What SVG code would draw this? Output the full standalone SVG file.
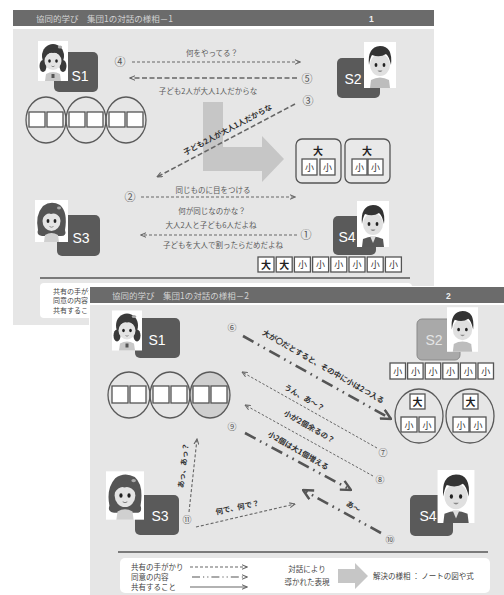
<svg xmlns="http://www.w3.org/2000/svg" width="504" height="595" viewBox="0 0 504 595">
<style>
 .hdr{fill:#6b6b6b}
 .hdrt{font-family:"Noto Sans CJK JP","Noto Sans CJK SC",sans-serif;font-size:8.5px;fill:#d2d2d2}
 .pno{font-family:"Liberation Sans",Arial,sans-serif;font-size:8.5px;font-weight:bold;fill:#f0f0f0}
 .pg{fill:#e6e6e6}
 .sb{fill:#5a5a5a}
 .sb2{fill:#a9a9a9;stroke:#8a8a8a;stroke-width:1}
 .st{font-family:"Liberation Sans",Arial,sans-serif;font-size:14px;fill:#fff;text-anchor:middle}
 .st2{font-family:"Liberation Sans",Arial,sans-serif;font-size:14px;fill:#e4e4e4;text-anchor:middle}
 .t{font-family:"Noto Sans CJK JP","Noto Sans CJK SC",sans-serif;font-size:7.5px;fill:#5a5a5a;text-anchor:middle}
 .tb{font-family:"Noto Sans CJK JP","Noto Sans CJK SC",sans-serif;font-size:7.5px;font-weight:bold;fill:#333;text-anchor:middle}
 .n{font-family:"Noto Sans CJK JP","Noto Sans CJK SC",sans-serif;font-size:11px;fill:#555;text-anchor:middle}
 .n2{font-family:"Noto Sans CJK JP","Noto Sans CJK SC",sans-serif;font-size:9px;fill:#555;text-anchor:middle}
 .cell{fill:#fff;stroke:#555;stroke-width:1.3}
 .ring{fill:none;stroke:#5a5a5a;stroke-width:1.3}
 .ringf{fill:#cfcfcf;stroke:#5a5a5a;stroke-width:1.3}
 .rbox{fill:#e9e9e9;stroke:#555;stroke-width:1.3}
 .k{font-family:"Noto Sans CJK JP","Noto Sans CJK SC",sans-serif;font-size:9px;fill:#333;text-anchor:middle}
 .kb{font-family:"Noto Sans CJK JP","Noto Sans CJK SC",sans-serif;font-size:10px;font-weight:bold;fill:#222;text-anchor:middle}
 .d{fill:none;stroke:#666;stroke-width:1.1;stroke-dasharray:3 2}
 .d2{fill:none;stroke:#666;stroke-width:1.6;stroke-dasharray:5 2.5}
 .dt{fill:none;stroke:#666;stroke-width:1;stroke-dasharray:2.5 1.8}
 .dd{fill:none;stroke:#555;stroke-width:2.6;stroke-dasharray:12 5 1.6 5 1.6 5}
 .ln{fill:none;stroke:#666;stroke-width:1.1}
 .sep{stroke:#7a7a7a;stroke-width:2}
 .lg{font-family:"Noto Sans CJK JP","Noto Sans CJK SC",sans-serif;font-size:7.5px;fill:#444}
 .lg1{font-family:"Noto Sans CJK JP","Noto Sans CJK SC",sans-serif;font-size:7px;fill:#444}
 .big{fill:#c6c6c6}
</style>
<defs>
 <marker id="ah" viewBox="0 0 10 10" refX="9" refY="5" markerWidth="6" markerHeight="6" markerUnits="userSpaceOnUse" orient="auto">
  <path d="M0,1 L9,5 L0,9" fill="none" stroke="#666" stroke-width="1.8"/>
 </marker>
 <marker id="cv" viewBox="0 0 12 12" refX="11" refY="6" markerWidth="12" markerHeight="12" markerUnits="userSpaceOnUse" orient="auto">
  <path d="M1,1 L11,6 L1,11" fill="none" stroke="#555" stroke-width="2.4"/>
 </marker>
 <!-- character portraits -->
 <symbol id="girlA" viewBox="0 0 30 40">
  <rect width="30" height="40" fill="#fff"/>
  <ellipse cx="5" cy="25" rx="3.5" ry="6" fill="#3a3a3a"/>
  <ellipse cx="25" cy="25" rx="3.5" ry="6" fill="#3a3a3a"/>
  <path d="M7,40 L8,33 Q15,29 22,33 L23,40 Z" fill="#c8c8c8"/>
  <rect x="13.5" y="33" width="3" height="4" fill="#555"/>
  <ellipse cx="15" cy="15" rx="11" ry="12" fill="#3a3a3a"/>
  <ellipse cx="15" cy="20" rx="8.5" ry="9" fill="#e4e4e4"/>
  <path d="M6,17 Q8,7 15,7 Q23,7 24,17 Q20,11 15,12 Q10,11 6,17 Z" fill="#3a3a3a"/>
  <ellipse cx="11.5" cy="20" rx="1.3" ry="1.8" fill="#222"/>
  <ellipse cx="18.5" cy="20" rx="1.3" ry="1.8" fill="#222"/>
  <path d="M13.5,25 Q15,26.5 16.5,25" stroke="#777" fill="none" stroke-width="0.8"/>
  <ellipse cx="22" cy="6" rx="2.2" ry="1.5" fill="#aaa"/>
 </symbol>
 <symbol id="girlB" viewBox="0 0 33 42">
  <rect width="33" height="42" fill="#fff"/>
  <path d="M3,30 Q0,15 8,6 Q16,0 25,5 Q33,12 30,30 Q32,36 26,36 L7,36 Q1,35 3,30 Z" fill="#555"/>
  <path d="M9,42 L10,35 Q16.5,31 23,35 L24,42 Z" fill="#d0d0d0"/>
  <ellipse cx="16.5" cy="21" rx="9" ry="10" fill="#e4e4e4"/>
  <path d="M7,19 Q9,8 17,8 Q25,9 26,19 Q21,12 16,14 Q12,12 7,19 Z" fill="#555"/>
  <ellipse cx="13" cy="21" rx="1.4" ry="1.9" fill="#222"/>
  <ellipse cx="20" cy="21" rx="1.4" ry="1.9" fill="#222"/>
  <path d="M14.5,26.5 Q16.5,28 18.5,26.5" stroke="#777" fill="none" stroke-width="0.8"/>
  <ellipse cx="24" cy="8" rx="2" ry="1.4" fill="#aaa"/>
 </symbol>
 <symbol id="boyA" viewBox="0 0 32 46">
  <rect width="32" height="46" fill="#fff"/>
  <path d="M6,46 L7,38 Q16,33 25,38 L26,46 Z" fill="#bdbdbd"/>
  <ellipse cx="16" cy="23" rx="10" ry="11" fill="#e0e0e0"/>
  <path d="M5,23 Q3,5 16,4 Q29,4 27,23 Q25,14 22,12 Q16,16 8,13 Q6,16 5,23 Z" fill="#333"/>
  <ellipse cx="12" cy="23" rx="1.4" ry="1.9" fill="#222"/>
  <ellipse cx="20" cy="23" rx="1.4" ry="1.9" fill="#222"/>
  <path d="M13.5,28.5 Q16,31.5 18.5,28.5 Z" fill="#888"/>
 </symbol>
 <symbol id="boyB" viewBox="0 0 32 46">
  <rect width="32" height="46" fill="#fff"/>
  <path d="M5,46 L6,38 Q16,33 26,38 L27,46 Z" fill="#585858"/>
  <path d="M13,35 L16,42 L19,35 Z" fill="#ddd"/>
  <ellipse cx="16" cy="23" rx="10" ry="11" fill="#e0e0e0"/>
  <path d="M5,23 Q3,5 16,4 Q29,4 27,23 Q25,14 22,12 Q16,16 8,13 Q6,16 5,23 Z" fill="#333"/>
  <ellipse cx="12" cy="23" rx="1.4" ry="1.9" fill="#222"/>
  <ellipse cx="20" cy="23" rx="1.4" ry="1.9" fill="#222"/>
  <path d="M13.5,28.5 Q16,31.5 18.5,28.5 Z" fill="#888"/>
 </symbol>
</defs>

<rect width="504" height="595" fill="#fff"/>

<!-- ===== page 1 ===== -->
<g id="page1">
 <rect class="hdr" x="13" y="10" width="421" height="16"/>
 <text class="hdrt" x="36" y="22">協同的学び　集団1の対話の様相－1</text>
 <text class="pno" x="369" y="22">1</text>
 <rect class="pg" x="13" y="29" width="421" height="296"/>

 <!-- solution arrow in the background -->
 <polygon class="big" points="203,102 223,102 223,147 262,147 262,136 284,159 262,182 262,171 203,171"/>

 <g id="p1-s1">
  <rect class="sb" x="54" y="52" width="44" height="40" rx="5"/>
  <use href="#girlA" x="38" y="41" width="30" height="40"/>
  <text class="st" x="80" y="81">S1</text>
 </g>
 <g id="p1-s2">
  <rect class="sb" x="337" y="58" width="43" height="40" rx="5"/>
  <use href="#boyA" x="364" y="42" width="32" height="46"/>
  <text class="st" x="353" y="84">S2</text>
 </g>
 <g id="p1-s3">
  <rect class="sb" x="57" y="215" width="43" height="41" rx="5"/>
  <use href="#girlB" x="35" y="200" width="33" height="42"/>
  <text class="st" x="81" y="243">S3</text>
 </g>
 <g id="p1-s4">
  <rect class="sb" x="333" y="216" width="43" height="39" rx="5"/>
  <use href="#boyB" x="357" y="201" width="32" height="46"/>
  <text class="st" x="347" y="242">S4</text>
 </g>

 <g id="p1-rings">
  <ellipse class="ring" cx="46" cy="120" rx="20" ry="23"/>
  <ellipse class="ring" cx="86" cy="120" rx="20" ry="23"/>
  <ellipse class="ring" cx="126" cy="120" rx="20" ry="23"/>
  <rect class="cell" x="29" y="112" width="16" height="15"/>
  <rect class="cell" x="47" y="112" width="16" height="15"/>
  <rect class="cell" x="69" y="112" width="16" height="15"/>
  <rect class="cell" x="87" y="112" width="16" height="15"/>
  <rect class="cell" x="109" y="112" width="16" height="15"/>
  <rect class="cell" x="127" y="112" width="16" height="15"/>
 </g>

 <g id="p1-groups">
  <rect class="rbox" x="296" y="139" width="45" height="44" rx="6"/>
  <rect class="rbox" x="345" y="139" width="45" height="44" rx="6"/>
  <text class="kb" x="318" y="155">大</text>
  <text class="kb" x="367" y="155">大</text>
  <rect class="cell" x="302" y="159" width="15" height="16"/>
  <rect class="cell" x="320" y="159" width="15" height="16"/>
  <rect class="cell" x="352" y="159" width="15" height="16"/>
  <rect class="cell" x="368" y="159" width="15" height="16"/>
  <text class="k" x="309.5" y="171">小</text>
  <text class="k" x="327.5" y="171">小</text>
  <text class="k" x="359.5" y="171">小</text>
  <text class="k" x="375.5" y="171">小</text>
 </g>

 <g id="p1-row">
  <rect class="cell" x="258" y="257" width="16" height="15"/>
  <rect class="cell" x="276.2" y="257" width="16" height="15"/>
  <rect class="cell" x="294.4" y="257" width="16" height="15"/>
  <rect class="cell" x="312.6" y="257" width="16" height="15"/>
  <rect class="cell" x="330.8" y="257" width="16" height="15"/>
  <rect class="cell" x="349" y="257" width="16" height="15"/>
  <rect class="cell" x="367.2" y="257" width="16" height="15"/>
  <rect class="cell" x="385.4" y="257" width="16" height="15"/>
  <text class="kb" x="266" y="268.5">大</text>
  <text class="kb" x="284.2" y="268.5">大</text>
  <text class="k" x="302.4" y="268">小</text>
  <text class="k" x="320.6" y="268">小</text>
  <text class="k" x="338.8" y="268">小</text>
  <text class="k" x="357" y="268">小</text>
  <text class="k" x="375.2" y="268">小</text>
  <text class="k" x="393.4" y="268">小</text>
 </g>

 <g id="p1-links">
  <text class="n" x="120" y="66">④</text>
  <line class="d" x1="132" y1="62" x2="300" y2="62" marker-end="url(#ah)"/>
  <text class="t" x="212" y="56">何をやってる？</text>

  <text class="n" x="307" y="83">⑤</text>
  <line class="d2" x1="297" y1="78" x2="130" y2="78" marker-end="url(#ah)"/>
  <text class="t" x="208" y="94">子ども2人が大人1人だからな</text>

  <text class="n" x="308" y="105">③</text>
  <line class="d2" x1="295" y1="104" x2="157" y2="177" marker-end="url(#ah)"/>
  <text class="tb" transform="translate(229,132) rotate(-28)">子ども2人が大人1人だからな</text>

  <text class="n" x="130" y="201">②</text>
  <line class="d" x1="141" y1="197" x2="295" y2="197" marker-end="url(#ah)"/>
  <text class="t" x="213" y="193">同じものに目をつける</text>
  <text class="t" x="212" y="214">何が同じなのかな？</text>

  <text class="n" x="306" y="239">①</text>
  <line class="d" x1="297" y1="235" x2="141" y2="235" marker-end="url(#ah)"/>
  <text class="t" x="211" y="228">大人2人と子ども6人だよね</text>
  <text class="t" x="223" y="248">子どもを大人で割ったらだめだよね</text>
 </g>

 <line class="sep" x1="40" y1="278" x2="410" y2="278"/>
 <g id="p1-legend">
  <rect x="40" y="283" width="372" height="35" rx="4" fill="#fff"/>
  <text class="lg1" x="53" y="293.5">共有の手がかり</text>
  <text class="lg1" x="53" y="303">同意の内容</text>
  <text class="lg1" x="53" y="312.5">共有すること</text>
 </g>
</g>

<!-- ===== page 2 ===== -->
<g id="page2">
 <rect x="89" y="286" width="415" height="309" fill="#fff"/>
 <rect class="hdr" x="90" y="287" width="414" height="16"/>
 <text class="hdrt" x="112" y="299">協同的学び　集団1の対話の様相－2</text>
 <text class="pno" x="446" y="299">2</text>
 <rect class="pg" x="90" y="305" width="414" height="290"/>

 <g id="p2-s1">
  <rect class="sb" x="135" y="318" width="45" height="40" rx="5"/>
  <use href="#girlA" x="112" y="310" width="30" height="41"/>
  <text class="st" x="157" y="345">S1</text>
 </g>
 <g id="p2-s2">
  <rect class="sb2" x="417" y="319" width="43" height="41" rx="5"/>
  <use href="#boyA" x="447" y="307" width="31" height="45"/>
  <text class="st2" x="434" y="345">S2</text>
 </g>
 <g id="p2-s3">
  <rect class="sb" x="135" y="495" width="44" height="40" rx="5"/>
  <use href="#girlB" x="106" y="471" width="38" height="49"/>
  <text class="st" x="160" y="521">S3</text>
 </g>
 <g id="p2-s4">
  <rect class="sb" x="410" y="495" width="43" height="41" rx="5"/>
  <use href="#boyB" x="437" y="470" width="38" height="53"/>
  <text class="st" x="428" y="521">S4</text>
 </g>

 <g id="p2-rings">
  <ellipse class="ring" cx="129" cy="395" rx="21" ry="23"/>
  <ellipse class="ring" cx="170" cy="395" rx="20" ry="23"/>
  <ellipse class="ringf" cx="210" cy="395" rx="20" ry="23"/>
  <rect class="cell" x="112" y="386" width="16" height="17"/>
  <rect class="cell" x="130" y="386" width="16" height="17"/>
  <rect class="cell" x="153" y="386" width="16" height="17"/>
  <rect class="cell" x="171" y="386" width="16" height="17"/>
  <rect class="cell" x="193" y="386" width="16" height="17"/>
  <rect class="cell" x="211" y="386" width="16" height="17"/>
 </g>

 <g id="p2-row">
  <rect class="cell" x="390" y="363" width="15.5" height="16"/>
  <rect class="cell" x="407.6" y="363" width="15.5" height="16"/>
  <rect class="cell" x="425.2" y="363" width="15.5" height="16"/>
  <rect class="cell" x="442.8" y="363" width="15.5" height="16"/>
  <rect class="cell" x="460.4" y="363" width="15.5" height="16"/>
  <rect class="cell" x="478" y="363" width="15.5" height="16"/>
  <text class="k" x="397.8" y="374.5">小</text>
  <text class="k" x="415.4" y="374.5">小</text>
  <text class="k" x="433" y="374.5">小</text>
  <text class="k" x="450.6" y="374.5">小</text>
  <text class="k" x="468.2" y="374.5">小</text>
  <text class="k" x="485.8" y="374.5">小</text>
 </g>

 <g id="p2-groups">
  <ellipse class="ring" cx="419" cy="416" rx="24" ry="27"/>
  <ellipse class="ring" cx="470" cy="416" rx="24" ry="27"/>
  <rect class="cell" x="410" y="394" width="15" height="15"/>
  <rect class="cell" x="463" y="394" width="15" height="15"/>
  <text class="kb" x="417.5" y="405.5">大</text>
  <text class="kb" x="470.5" y="405.5">大</text>
  <rect class="cell" x="401" y="417" width="16" height="15"/>
  <rect class="cell" x="419" y="417" width="16" height="15"/>
  <rect class="cell" x="453" y="417" width="16" height="15"/>
  <rect class="cell" x="470" y="417" width="16" height="15"/>
  <text class="k" x="409" y="428.5">小</text>
  <text class="k" x="427" y="428.5">小</text>
  <text class="k" x="461" y="428.5">小</text>
  <text class="k" x="478" y="428.5">小</text>
 </g>

 <g id="p2-links">
  <text class="n2" x="232" y="331">⑥</text>
  <line class="dd" x1="243" y1="336" x2="391" y2="419" marker-end="url(#cv)"/>
  <text class="tb" transform="translate(322,369) rotate(30)">大が〇だとすると、その中に小は2つ入る</text>

  <text class="n2" x="383" y="456">⑦</text>
  <line class="dt" x1="377" y1="448" x2="242" y2="372" marker-end="url(#ah)"/>
  <text class="tb" transform="translate(303,400) rotate(30)">うん、あ～？</text>

  <text class="n2" x="380" y="483">⑧</text>
  <line class="dt" x1="373" y1="476" x2="245" y2="405" marker-end="url(#ah)"/>
  <text class="tb" transform="translate(308,429) rotate(30)">小が2個余るの？</text>

  <text class="n2" x="232" y="430">⑨</text>
  <line class="dd" x1="245" y1="433" x2="351" y2="490" marker-end="url(#cv)"/>
  <text class="tb" transform="translate(297,453) rotate(30)">小2個は大1個増える</text>

  <text class="n2" x="390" y="543">⑩</text>
  <line class="dd" x1="381" y1="533" x2="303" y2="490" marker-end="url(#cv)"/>
  <text class="tb" transform="translate(352,509) rotate(30)">あ～</text>

  <text class="n2" x="187" y="523">⑪</text>
  <line class="d" x1="189" y1="512" x2="197" y2="439" marker-end="url(#ah)"/>
  <text class="tb" transform="translate(186,466) rotate(-83)">あっ、あっ？</text>
  <line class="d" x1="196" y1="527" x2="295" y2="504" marker-end="url(#ah)"/>
  <text class="tb" transform="translate(238,510) rotate(-12)">何で、何で？</text>
 </g>

 <line class="sep" x1="118" y1="552" x2="488" y2="552"/>
 <g id="p2-legend">
  <rect x="120" y="558" width="370" height="35" rx="5" fill="#fff"/>
  <text class="lg" x="131" y="570">共有の手がかり</text>
  <text class="lg" x="131" y="580">同意の内容</text>
  <text class="lg" x="131" y="590">共有すること</text>
  <line class="d" x1="190" y1="567" x2="247" y2="567" marker-end="url(#ah)"/>
  <line x1="192" y1="577" x2="247" y2="577" fill="none" stroke="#555" stroke-width="1.2" stroke-dasharray="8 3 1.2 3 1.2 3" marker-end="url(#ah)"/>
  <line class="ln" x1="190" y1="587" x2="247" y2="587" marker-end="url(#ah)"/>
  <text class="lg" x="307" y="572" text-anchor="middle">対話により</text>
  <text class="lg" x="307" y="585" text-anchor="middle">導かれた表現</text>
  <polygon class="big" points="338,569 355,569 355,563 368,576 355,589 355,583 338,583"/>
  <text class="lg" x="373" y="579">解決の様相 ： ノートの図や式</text>
 </g>
</g>
</svg>
